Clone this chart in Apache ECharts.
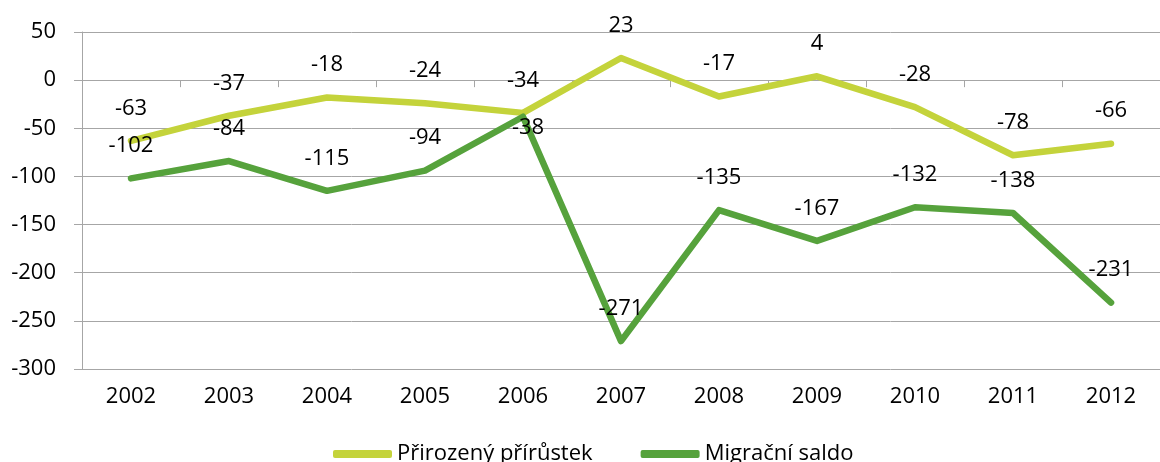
<!DOCTYPE html>
<html>
<head>
<meta charset="utf-8">
<script src="https://cdn.jsdelivr.net/npm/echarts@6/dist/echarts.min.js"></script>
<style>
html,body{margin:0;padding:0;background:#fff;}
#chart{width:1160px;height:462px;}
</style>
</head>
<body>
<div id="chart"></div>
<script>
const categories = ['2002','2003','2004','2005','2006','2007','2008','2009','2010','2011','2012'];
const prirozeny = [-63, -37, -18, -24, -34, 23, -17, 4, -28, -78, -66];
const migracni = [-102, -84, -115, -94, -38, -271, -135, -167, -132, -138, -231];
const seriesNames = ['Přirozený přírůstek', 'Migrační saldo'];

const FONT = "'Open Sans', 'Noto Sans', sans-serif";
const FS = 22;
const GRID_COLOR = '#a6a6a6';

const labelTop = { show: true, position: 'top', distance: 21, color: '#000', fontFamily: FONT, fontSize: FS };

const migData = migracni.map((v, i) => {
  if (i === 4) {
    return { value: v, label: { position: 'bottom', distance: 0, offset: [5, 0] } };
  }
  return v;
});

const chart = echarts.init(document.getElementById('chart'), null, { renderer: 'canvas' });
chart.setOption({
  animation: false,
  backgroundColor: '#fff',
  textStyle: { fontFamily: FONT },
  grid: { left: 82, top: 32, width: 1084, height: 337, containLabel: false },
  legend: {
    data: seriesNames,
    left: 328,
    top: 438,
    itemWidth: 59,
    itemHeight: 8,
    itemGap: 48,
    icon: 'roundRect',
    textStyle: { fontFamily: FONT, fontSize: FS, color: '#000' }
  },
  xAxis: [
    {
      type: 'category',
      data: categories,
      boundaryGap: true,
      position: 'bottom',
      axisLine: { show: false, onZero: false },
      axisTick: { show: false },
      axisLabel: { color: '#000', fontFamily: FONT, fontSize: FS, margin: 17 },
      splitLine: { show: false }
    },
    {
      type: 'category',
      data: categories,
      boundaryGap: true,
      position: 'bottom',
      axisLine: { show: true, onZero: true, lineStyle: { color: GRID_COLOR, width: 1 } },
      axisTick: { show: true, length: 7, inside: false, lineStyle: { color: GRID_COLOR } },
      axisLabel: { show: false },
      splitLine: { show: false }
    }
  ],
  yAxis: {
    type: 'value',
    min: -300,
    max: 50,
    interval: 50,
    axisLine: { show: true, lineStyle: { color: GRID_COLOR, width: 1 } },
    axisTick: { show: true, length: 8, inside: false, lineStyle: { color: GRID_COLOR } },
    axisLabel: { color: '#000', fontFamily: FONT, fontSize: FS, margin: 26 },
    splitLine: { show: true, lineStyle: { color: GRID_COLOR, width: 1 } }
  },
  series: [
    {
      name: seriesNames[0],
      type: 'line',
      xAxisIndex: 0,
      data: prirozeny,
      symbol: 'circle',
      symbolSize: 1,
      color: '#c4d33b',
      lineStyle: { width: 6.5, color: '#c4d33b', cap: 'round', join: 'round' },
      itemStyle: { color: '#c4d33b' },
      label: labelTop,
      z: 2
    },
    {
      name: seriesNames[1],
      type: 'line',
      xAxisIndex: 0,
      data: migData,
      symbol: 'circle',
      symbolSize: 1,
      color: '#56a23c',
      lineStyle: { width: 6.5, color: '#56a23c', cap: 'round', join: 'round' },
      itemStyle: { color: '#56a23c' },
      label: labelTop,
      z: 3
    }
  ]
});
</script>
</body>
</html>
